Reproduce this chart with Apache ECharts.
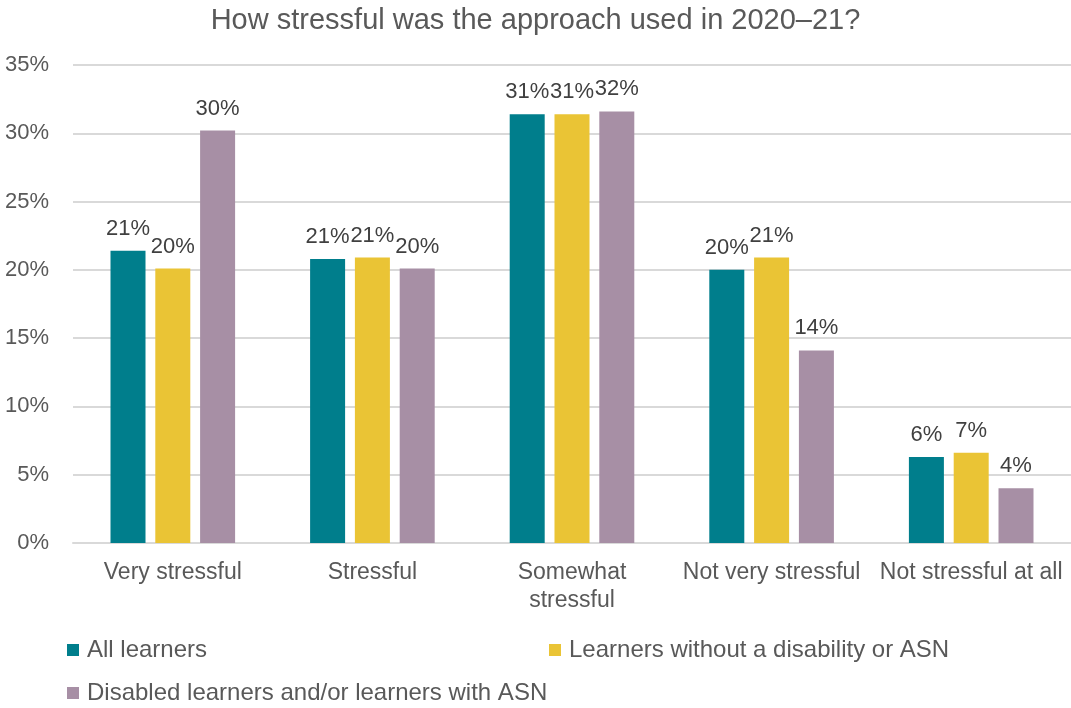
<!DOCTYPE html>
<html>
<head>
<meta charset="utf-8">
<script src="https://cdn.jsdelivr.net/npm/echarts@6/dist/echarts.min.js"></script>
<style>
  html, body { margin: 0; padding: 0; background: #ffffff; }
  #chart { width: 1071px; height: 708px; }
</style>
</head>
<body>
<div id="chart"></div>
<script>
// Survey responses: share of learners by perceived stress level
const categories = ['Very stressful', 'Stressful', 'Somewhat\nstressful', 'Not very stressful', 'Not stressful at all'];
const seriesNames = ['All learners', 'Learners without a disability or ASN', 'Disabled learners and/or learners with ASN'];
const allLearners = [21.4, 20.8, 31.4, 20.0, 6.3];
const withoutDisability = [20.1, 20.9, 31.4, 20.9, 6.6];
const disabledOrASN = [30.2, 20.1, 31.6, 14.1, 4.0];
const colors = ['#007E8C', '#EAC435', '#A78FA5'];

const font = 'Liberation Sans, Arial, sans-serif';
const chart = echarts.init(document.getElementById('chart'));

const labelStyle = {
  show: true,
  position: 'top',
  distance: 11,
  fontFamily: font,
  fontSize: 22,
  color: '#404040',
  formatter: p => Math.round(p.value) + '%'
};

function legendItem(name, left, top) {
  return {
    data: [name],
    left: left,
    top: top,
    padding: 0,
    icon: 'rect',
    itemWidth: 12,
    itemHeight: 12,
    textStyle: { fontFamily: font, fontSize: 24, color: '#595959', padding: [0, 0, 0, 3] }
  };
}

chart.setOption({
  animation: false,
  color: colors,
  title: {
    text: 'How stressful was the approach used in 2020\u201321?',
    left: 'center',
    top: 1,
    textStyle: { fontFamily: font, fontSize: 29, fontWeight: 'normal', color: '#595959' }
  },
  legend: [
    legendItem(seriesNames[0], 67, 638),
    legendItem(seriesNames[1], 549, 638),
    legendItem(seriesNames[2], 67, 681)
  ],
  grid: { left: 73, top: 65, width: 1000, height: 478, containLabel: false },
  xAxis: {
    type: 'category',
    data: categories,
    axisLine: { show: true, lineStyle: { color: '#D9D9D9', width: 2 } },
    axisTick: { show: false },
    axisLabel: { fontFamily: font, fontSize: 23, color: '#595959', margin: 16, lineHeight: 28, interval: 0 }
  },
  yAxis: {
    type: 'value',
    min: 0,
    max: 35,
    interval: 5,
    axisLine: { show: false },
    axisTick: { show: false },
    axisLabel: { fontFamily: font, fontSize: 22, color: '#595959', margin: 24, formatter: v => v + '%' },
    splitLine: { lineStyle: { color: '#D9D9D9', width: 2 } }
  },
  series: [
    { name: seriesNames[0], type: 'bar', data: allLearners, barWidth: 35, barGap: '28%', label: labelStyle },
    { name: seriesNames[1], type: 'bar', data: withoutDisability, barWidth: 35, barGap: '28%', label: labelStyle },
    { name: seriesNames[2], type: 'bar', data: disabledOrASN, barWidth: 35, barGap: '28%', label: labelStyle }
  ]
});
</script>
</body>
</html>
